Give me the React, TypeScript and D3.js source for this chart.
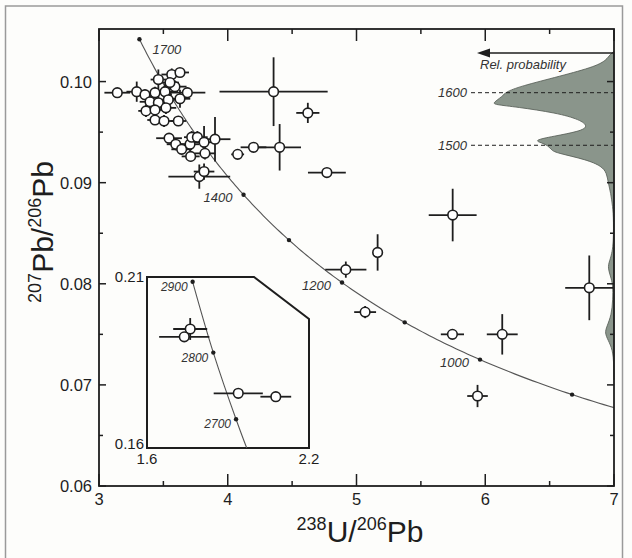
import React from 'react';
import * as d3 from 'd3';

// ---------- axis ticks ----------
const xTicks = [3, 4, 5, 6, 7];
const xMinorTicks = [3.5, 4.5, 5.5, 6.5];
const yTicks = [0.06, 0.07, 0.08, 0.09, 0.1];
const yMinorTicks = [0.065, 0.075, 0.085, 0.095];

// ---------- zircon spots (238U/206Pb, 207Pb/206Pb, 2s errors) ----------
const spotX = [3.142, 3.293, 3.357, 3.461, 3.565, 3.629, 3.59, 3.686, 3.435, 3.513, 3.551, 3.396, 3.461, 3.538, 3.629, 3.365, 3.435, 3.52, 3.435, 3.505, 3.616, 3.544, 3.596, 3.642, 3.707, 3.72, 3.764, 3.816, 3.901, 3.712, 3.823, 3.779, 3.816, 4.077, 4.2, 4.403, 4.356, 4.622, 4.77, 5.747, 5.164, 4.917, 5.067, 5.745, 6.132, 5.94, 6.808];
const spotXErr = [0.1, 0.08, 0.07, 0.06, 0.08, 0.07, 0.09, 0.14, 0.08, 0.1, 0.07, 0.08, 0.07, 0.09, 0.08, 0.06, 0.07, 0.08, 0.06, 0.07, 0.06, 0.1, 0.07, 0.08, 0.07, 0.06, 0.08, 0.09, 0.12, 0.07, 0.08, 0.24, 0.08, 0.05, 0.1, 0.166, 0.42, 0.09, 0.147, 0.186, 0.03, 0.16, 0.085, 0.09, 0.12, 0.08, 0.187];
const spotY = [0.0989, 0.099, 0.0987, 0.1002, 0.1007, 0.1009, 0.0995, 0.0989, 0.0989, 0.099, 0.0999, 0.098, 0.0979, 0.0982, 0.0983, 0.0971, 0.0972, 0.0974, 0.0962, 0.0961, 0.0961, 0.0944, 0.0938, 0.0933, 0.0938, 0.0945, 0.0945, 0.094, 0.0943, 0.0926, 0.0929, 0.0906, 0.0911, 0.0928, 0.0935, 0.0935, 0.099, 0.0969, 0.091, 0.0868, 0.0831, 0.0814, 0.0772, 0.075, 0.075, 0.0689, 0.0796];
const spotYErr = [0.0004, 0.001, 0.0005, 0.001, 0.0006, 0.0004, 0.0006, 0.0005, 0.0006, 0.0008, 0.0007, 0.0006, 0.0007, 0.0008, 0.0009, 0.0006, 0.0007, 0.0006, 0.0005, 0.0006, 0.0005, 0.0005, 0.0006, 0.0005, 0.0007, 0.0006, 0.0006, 0.0016, 0.0022, 0.0005, 0.0006, 0.0012, 0.0008, 0.0003, 0.0004, 0.0023, 0.0034, 0.001, 0.0004, 0.0026, 0.0018, 0.0008, 0.0006, 0.0003, 0.002, 0.0011, 0.0032];

// ---------- concordia (main panel) ----------
const LAMBDA238 = 1.55125e-10;
const LAMBDA235 = 9.8485e-10;
const U_RATIO = 137.88;
const concordiaMarkAges = [1700, 1600, 1500, 1400, 1300, 1200, 1100, 1000, 900];
const concordiaLabelAges = ['1700', '1400', '1200', '1000'];
const concordiaStartAge = 1700;
const concordiaEndAge = 855;

// ---------- inset (old grains) ----------
const insetXTicks = ['1.6', '2.2'];
const insetYTicks = ['0.16', '0.21'];
const insetSpotX = [1.76, 1.738, 1.938, 2.077];
const insetSpotXErr = [0.063, 0.093, 0.091, 0.057];
const insetSpotY = [0.1948, 0.1925, 0.176, 0.175];
const insetSpotYErr = [0.0032, 0.0008, 0.0006, 0.0005];
const insetCurveX = [1.769, 1.8456, 1.9298, 1.9694];
const insetCurveY = [0.2086, 0.1879, 0.1684, 0.16];
const insetMarkAges = ['2900', '2800', '2700'];

// ---------- relative probability curve ----------
const densityY = [0.103, 0.10267, 0.10218, 0.10152, 0.10053, 0.09953, 0.09894, 0.09855, 0.09789, 0.09772, 0.09749, 0.0969, 0.09624, 0.09557, 0.09508, 0.09458, 0.09419, 0.09393, 0.09366, 0.0932, 0.09294, 0.09228, 0.09162, 0.09096, 0.08997, 0.08898, 0.08765, 0.08634, 0.08337, 0.08218, 0.08158, 0.08079, 0.0799, 0.07842, 0.07693, 0.07574, 0.07515, 0.07446, 0.07347, 0.07198, 0.0705];
const densityP = [0, 0.033, 0.06, 0.142, 0.443, 0.77, 0.893, 0.912, 0.994, 0.975, 0.8, 0.47, 0.279, 0.21, 0.279, 0.5, 0.66, 0.59, 0.54, 0.51, 0.47, 0.224, 0.1, 0.06, 0.047, 0.027, 0.011, 0.003, 0.005, 0.04, 0.05, 0.03, 0.008, 0.01, 0.02, 0.06, 0.075, 0.05, 0.01, 0.002, 0];
const peakAges = ['1600', '1500'];
const peakRatios = [0.0989, 0.0937];

const W = 632;
const H = 558;
const M = { left: 99, right: 614, top: 29, bottom: 486 };
const INK = '#1e1e1e';
const FONT = '"Liberation Sans", Arial, Helvetica, sans-serif';

const concX = (t: number) => 1 / (Math.exp(LAMBDA238 * t * 1e6) - 1);
const concY = (t: number) =>
  (Math.exp(LAMBDA235 * t * 1e6) - 1) / (Math.exp(LAMBDA238 * t * 1e6) - 1) / U_RATIO;

export default function App() {
  const x = d3.scaleLinear().domain([3, 7]).range([M.left, M.right]);
  const y = d3.scaleLinear().domain([0.06, 0.1052]).range([M.bottom, M.top]);

  const ix = d3.scaleLinear().domain([1.6, 2.2]).range([147, 309]);
  const iy = d3.scaleLinear().domain([0.16, 0.21]).range([448, 277]);

  const px = d3.scaleLinear().domain([0, 1]).range([M.right, 492]);

  const ages = d3.range(concordiaStartAge, concordiaEndAge - 1, -5);
  const concLine = d3
    .line<number>()
    .x((t) => x(concX(t)))
    .y((t) => y(concY(t)));

  const insetLine = d3
    .line<number>()
    .x((i) => ix(insetCurveX[i]))
    .y((i) => iy(insetCurveY[i]))
    .curve(d3.curveNatural);

  const densArea = d3
    .area<number>()
    .y((i) => y(densityY[i]))
    .x0(() => M.right)
    .x1((i) => px(densityP[i]))
    .curve(d3.curveBasis);

  const densIdx = densityY.map((_, i) => i);

  const insetPath = `M147,277 L254,277 L309,319 L309,448 L147,448 Z`;

  return (
    <svg
      width={W}
      height={H}
      style={{ position: 'absolute', left: 0, top: 0, background: '#fdfdfb' }}
      fontFamily={FONT}
    >
      <defs>
        <clipPath id="plotClip">
          <rect x={M.left} y={M.top} width={M.right - M.left} height={M.bottom - M.top} />
        </clipPath>
        <clipPath id="insetClip">
          <path d={insetPath} />
        </clipPath>
      </defs>

      {/* outer frame */}
      <rect x={5.5} y={6} width={617} height={560} fill="none" stroke="#9a9a9a" strokeWidth={1.5} />

      {/* probability density */}
      <path d={densArea(densIdx) || ''} fill="#8a958b" stroke="#505851" strokeWidth={0.8} />

      {/* peak dashed lines */}
      {peakRatios.map((r, i) => (
        <g key={'pk' + i}>
          <line x1={471} x2={M.right} y1={y(r)} y2={y(r)} stroke={INK} strokeWidth={1} strokeDasharray="4,3" />
          <text x={467} y={y(r) + 4.5} fontSize={13} fontStyle="italic" textAnchor="end" fill="#333">
            {peakAges[i]}
          </text>
        </g>
      ))}

      {/* Rel. probability arrow */}
      <line x1={M.right} x2={486} y1={53} y2={53} stroke={INK} strokeWidth={1.4} />
      <path d="M477,53 L490,48.5 L490,57.5 Z" fill={INK} />
      <text x={480} y={69} fontSize={13} fontStyle="italic" fill="#333">
        Rel. probability
      </text>

      {/* concordia */}
      <g clipPath="url(#plotClip)">
        <path d={concLine(ages) || ''} fill="none" stroke="#555" strokeWidth={1.1} />
      </g>
      {concordiaMarkAges.map((t) => (
        <circle key={'cm' + t} cx={x(concX(t))} cy={y(concY(t))} r={2.2} fill={INK} />
      ))}
      {concordiaLabelAges.map((a) => {
        const t = +a;
        const cx = x(concX(t));
        const cy = y(concY(t));
        if (t === 1700) {
          return (
            <text key={'cl' + a} x={cx + 13} y={cy + 15} fontSize={13} fontStyle="italic" fill="#333">
              {a}
            </text>
          );
        }
        return (
          <text key={'cl' + a} x={cx - 11} y={cy + 7} fontSize={13} fontStyle="italic" textAnchor="end" fill="#333">
            {a}
          </text>
        );
      })}

      {/* error bars */}
      {spotX.map((v, i) => (
        <g key={'eb' + i} stroke={INK} strokeWidth={1.8}>
          <line x1={x(v - spotXErr[i])} x2={Math.min(M.right, x(v + spotXErr[i]))} y1={y(spotY[i])} y2={y(spotY[i])} />
          <line x1={x(v)} x2={x(v)} y1={y(spotY[i] - spotYErr[i])} y2={y(spotY[i] + spotYErr[i])} />
        </g>
      ))}
      {spotX.map((v, i) => (
        <circle key={'sp' + i} cx={x(v)} cy={y(spotY[i])} r={4.8} fill="#fff" stroke={INK} strokeWidth={1.6} />
      ))}

      {/* inset */}
      <path d={insetPath} fill="#fdfdfb" stroke={INK} strokeWidth={2} />
      <g clipPath="url(#insetClip)">
        <path d={insetLine(insetCurveX.map((_, i) => i)) || ''} fill="none" stroke="#555" strokeWidth={1.1} />
      </g>
      {insetMarkAges.map((a, i) => (
        <g key={'im' + a}>
          <circle cx={ix(insetCurveX[i])} cy={iy(insetCurveY[i])} r={2.2} fill={INK} />
          <text x={ix(insetCurveX[i]) - 5} y={iy(insetCurveY[i]) + 9} fontSize={12} fontStyle="italic" textAnchor="end" fill="#333">
            {a}
          </text>
        </g>
      ))}
      {insetSpotX.map((v, i) => (
        <g key={'ieb' + i} stroke={INK} strokeWidth={1.8}>
          <line x1={ix(v - insetSpotXErr[i])} x2={ix(v + insetSpotXErr[i])} y1={iy(insetSpotY[i])} y2={iy(insetSpotY[i])} />
          <line x1={ix(v)} x2={ix(v)} y1={iy(insetSpotY[i] - insetSpotYErr[i])} y2={iy(insetSpotY[i] + insetSpotYErr[i])} />
        </g>
      ))}
      {insetSpotX.map((v, i) => (
        <circle key={'isp' + i} cx={ix(v)} cy={iy(insetSpotY[i])} r={4.8} fill="#fff" stroke={INK} strokeWidth={1.6} />
      ))}
      <text x={144} y={iy(+insetYTicks[1]) + 5} fontSize={15} textAnchor="end" fill={INK}>
        {insetYTicks[1]}
      </text>
      <text x={144} y={iy(+insetYTicks[0]) + 1} fontSize={15} textAnchor="end" fill={INK}>
        {insetYTicks[0]}
      </text>
      {insetXTicks.map((t) => (
        <text key={'ixt' + t} x={ix(+t)} y={464} fontSize={15} textAnchor="middle" fill={INK}>
          {t}
        </text>
      ))}

      {/* axes frame */}
      <rect
        x={M.left}
        y={M.top}
        width={M.right - M.left}
        height={M.bottom - M.top}
        fill="none"
        stroke={INK}
        strokeWidth={1.8}
      />
      {/* x ticks bottom/top */}
      {xTicks.map((t) => (
        <g key={'xt' + t} stroke={INK} strokeWidth={1.5}>
          <line x1={x(t)} x2={x(t)} y1={M.bottom} y2={M.bottom - 12} />
          <line x1={x(t)} x2={x(t)} y1={M.top} y2={M.top + 12} />
        </g>
      ))}
      {xMinorTicks.map((t) => (
        <g key={'xm' + t} stroke={INK} strokeWidth={1.5}>
          <line x1={x(t)} x2={x(t)} y1={M.bottom} y2={M.bottom - 5} />
          <line x1={x(t)} x2={x(t)} y1={M.top} y2={M.top + 5} />
        </g>
      ))}
      {yTicks.map((t) => (
        <g key={'yt' + t} stroke={INK} strokeWidth={1.5}>
          <line x1={M.left} x2={M.left + 7} y1={y(t)} y2={y(t)} />
          <line x1={M.right} x2={M.right - 7} y1={y(t)} y2={y(t)} />
        </g>
      ))}
      {yMinorTicks.map((t) => (
        <g key={'ym' + t} stroke={INK} strokeWidth={1.5}>
          <line x1={M.left} x2={M.left + 4} y1={y(t)} y2={y(t)} />
          <line x1={M.right} x2={M.right - 4} y1={y(t)} y2={y(t)} />
        </g>
      ))}
      {xTicks.map((t) => (
        <text key={'xl' + t} x={x(t)} y={505} fontSize={16.5} textAnchor="middle" fill={INK}>
          {d3.format('d')(t)}
        </text>
      ))}
      {yTicks.map((t) => (
        <text key={'yl' + t} x={92} y={y(t) + 6} fontSize={16.5} textAnchor="end" fill={INK}>
          {d3.format('.2f')(t)}
        </text>
      ))}

      {/* axis titles */}
      <text x={360} y={542} fontSize={30} textAnchor="middle" fill={INK}>
        <tspan fontSize={18} dy={-12}>238</tspan>
        <tspan dy={12}>U/</tspan>
        <tspan fontSize={18} dy={-12}>206</tspan>
        <tspan dy={12}>Pb</tspan>
      </text>
      <g transform="translate(53,232) rotate(-90)">
        <text x={0} y={0} fontSize={30} textAnchor="middle" fill={INK}>
          <tspan fontSize={18} dy={-12}>207</tspan>
          <tspan dy={12}>Pb/</tspan>
          <tspan fontSize={18} dy={-12}>206</tspan>
          <tspan dy={12}>Pb</tspan>
        </text>
      </g>
    </svg>
  );
}
